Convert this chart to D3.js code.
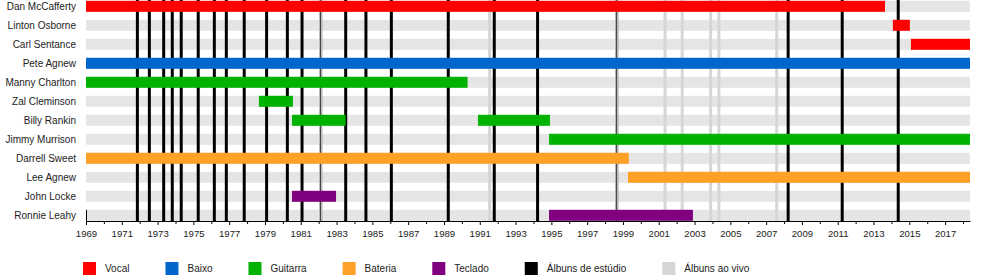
<!DOCTYPE html>
<html>
<head>
<meta charset="utf-8">
<script src="https://cdn.jsdelivr.net/npm/d3@7"></script>
<style>
  body { margin: 0; background: #fff; }
  text { font-family: "Liberation Sans", Arial, sans-serif; fill: #222; }
</style>
</head>
<body>
<div id="chart"></div>
<script>
// members, top to bottom
const members = ["Dan McCafferty", "Linton Osborne", "Carl Sentance", "Pete Agnew",
  "Manny Charlton", "Zal Cleminson", "Billy Rankin", "Jimmy Murrison",
  "Darrell Sweet", "Lee Agnew", "John Locke", "Ronnie Leahy"];

// roles (legend order)
const roles = ["Vocal", "Baixo", "Guitarra", "Bateria", "Teclado"];
const roleColors = ["#ff0000", "#0066cc", "#00b300", "#ffa126", "#800080"];

// membership periods: [member, role, start, end]
const periods = [
  ["Dan McCafferty", "Vocal", 1969, 2013.64],
  ["Linton Osborne", "Vocal", 2014.08, 2015.03],
  ["Carl Sentance", "Vocal", 2015.09, 2018.39],
  ["Pete Agnew", "Baixo", 1969, 2018.39],
  ["Manny Charlton", "Guitarra", 1969, 1990.32],
  ["Zal Cleminson", "Guitarra", 1978.66, 1980.56],
  ["Billy Rankin", "Guitarra", 1980.51, 1983.51],
  ["Billy Rankin", "Guitarra", 1990.9, 1994.92],
  ["Jimmy Murrison", "Guitarra", 1994.87, 2018.39],
  ["Darrell Sweet", "Bateria", 1969, 1999.33],
  ["Lee Agnew", "Bateria", 1999.28, 2018.39],
  ["John Locke", "Teclado", 1980.51, 1982.97],
  ["Ronnie Leahy", "Teclado", 1994.87, 2002.91]
];

// album release dates
const studioAlbums = [1971.87, 1972.54, 1973.34, 1973.82, 1974.32, 1975.27, 1976.17,
  1976.84, 1977.84, 1979.09, 1980.25, 1981.07, 1982.11, 1983.51, 1984.64, 1986.06,
  1989.24, 1991.81, 1994.23, 1998.65, 2008.23, 2011.25, 2014.38];
const liveAlbums = [1982.11, 1991.55, 1998.65, 2001.35, 2002.31, 2003.9, 2004.36, 2007.59];

const yearStart = 1969, yearEnd = 2018.39;

const width = 1000, height = 280;
const axisY = 221;

const svg = d3.select("#chart").append("svg")
    .attr("width", width)
    .attr("height", height);

// scales
const x = d3.scaleLinear()
    .domain([yearStart, yearEnd])
    .range([86, 970]);
const y = d3.scalePoint()
    .domain(members)
    .range([6.3, 215.3]);
const color = d3.scaleOrdinal()
    .domain(roles)
    .range(roleColors);

const barH = 11;

// background stripes
svg.append("g")
  .selectAll("rect")
  .data(members)
  .join("rect")
    .attr("x", x(yearStart))
    .attr("y", d => y(d) - barH / 2)
    .attr("width", x(yearEnd) - x(yearStart))
    .attr("height", barH)
    .attr("fill", "#e5e5e5");

// album lines
const albumLine = (g, data, stroke, w) => g.selectAll("line")
  .data(data)
  .join("line")
    .attr("x1", d => x(d))
    .attr("x2", d => x(d))
    .attr("y1", 0)
    .attr("y2", axisY)
    .attr("stroke", stroke)
    .attr("stroke-width", w);

svg.append("g").call(albumLine, studioAlbums, "#000", 3);
svg.append("g").call(albumLine, liveAlbums, "#d6d6d6", 3);
svg.append("g").call(albumLine, studioAlbums, "#000", 0.8);

// member bars
svg.append("g")
  .selectAll("rect")
  .data(periods)
  .join("rect")
    .attr("x", d => x(d[2]))
    .attr("y", d => y(d[0]) - barH / 2)
    .attr("width", d => x(d[3]) - x(d[2]))
    .attr("height", barH)
    .attr("fill", d => color(d[1]));

// member names
svg.append("g")
  .selectAll("text")
  .data(members)
  .join("text")
    .attr("x", 76)
    .attr("y", d => y(d))
    .attr("dy", "0.35em")
    .attr("text-anchor", "end")
    .attr("font-size", "10px")
    .text(d => d);

// x axis
const majorTicks = d3.range(1969, 2018, 2);
const minorTicks = d3.range(1970, 2019, 2);

const xAxis = d3.axisBottom(x)
    .tickValues(majorTicks)
    .tickFormat(d3.format("d"))
    .tickSize(4)
    .tickSizeOuter(0);

const axisG = svg.append("g")
    .attr("transform", `translate(0,${axisY})`)
    .call(xAxis)
    .call(g => g.selectAll(".tick text")
        .attr("font-size", "9.6px")
        .attr("font-family", "Liberation Sans, Arial, sans-serif")
        .attr("fill", "#222")
        .attr("dy", "0.9em"));

axisG.append("g")
  .selectAll("line")
  .data(minorTicks)
  .join("line")
    .attr("x1", d => x(d) + 0.5)
    .attr("x2", d => x(d) + 0.5)
    .attr("y1", 0)
    .attr("y2", 3)
    .attr("stroke", "#000");

// left axis line
svg.append("line")
    .attr("x1", x(yearStart) + 0.5)
    .attr("x2", x(yearStart) + 0.5)
    .attr("y1", y(members[members.length - 1]) - barH / 2)
    .attr("y2", axisY)
    .attr("stroke", "#000");

// legend
const legendItems = roles.map((r, i) => ({ label: r, fill: roleColors[i] }))
  .concat([{ label: "Álbuns de estúdio", fill: "#000" },
           { label: "Álbuns ao vivo", fill: "#d6d6d6" }]);

const legend = svg.append("g").attr("transform", "translate(0,262)");
let lx = 83;
legendItems.forEach(item => {
  const g = legend.append("g").attr("transform", `translate(${lx},0)`);
  g.append("rect")
      .attr("width", 13)
      .attr("height", 13)
      .attr("fill", item.fill);
  const t = g.append("text")
      .attr("x", 22)
      .attr("y", 6.5)
      .attr("dy", "0.35em")
      .attr("font-size", "10px")
      .text(item.label);
  lx += 22 + t.node().getComputedTextLength() + 36;
});
</script>
</body>
</html>
